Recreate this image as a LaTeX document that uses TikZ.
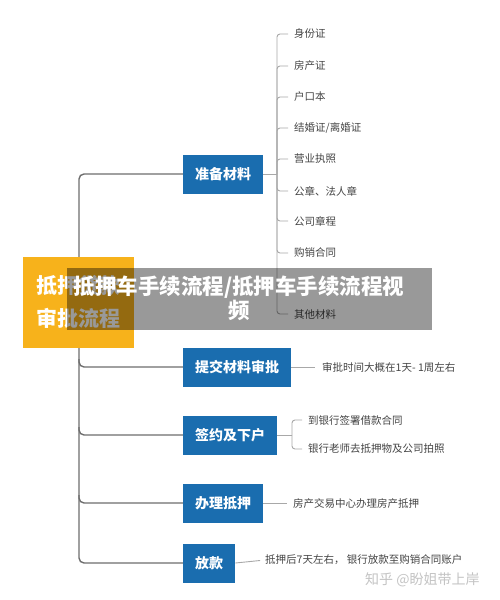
\documentclass[tikz,border=0pt]{standalone}
\usepackage{fontspec}
\setmainfont{Noto Sans CJK SC}
\usetikzlibrary{positioning,backgrounds,calc}
\definecolor{boxblue}{HTML}{1A6DAF}
\definecolor{rootgold}{HTML}{F7B21B}
\definecolor{trunkgray}{HTML}{6E6E6E}
\definecolor{twiggray}{HTML}{A8A8A8}
\definecolor{itemtext}{HTML}{444444}
\definecolor{markgray}{HTML}{C4C4C4}
\tikzset{
  stepbox/.style={anchor=west,fill=boxblue,text=white,font=\fontsize{14}{16}\selectfont\bfseries,inner xsep=12pt,minimum height=39pt},
  rootbox/.style={fill=rootgold,text=white,font=\fontsize{21}{33}\selectfont\bfseries,align=left,minimum width=111pt,minimum height=91pt,inner xsep=13pt},
  item/.style={anchor=west,text=itemtext,font=\fontsize{10.5}{12}\selectfont,inner sep=0pt},
  trunk/.style={draw=trunkgray,line width=1.4pt,rounded corners=5pt},
  twig/.style={draw=twiggray,line width=0.9pt,rounded corners=3pt},
}

\begin{document}
\begin{tikzpicture}[x=1pt,y=-1pt]
  \useasboundingbox (0,0) rectangle (500,600);
  \coordinate (tk) at (79,0);
  \node[rootbox] (root) at (78.5,302) {抵押贷款\\审批流程};
  \node[stepbox] (prep) at (183,174) {准备材料};
  \node[stepbox] (submit) at (183,367) {提交材料审批};
  \node[stepbox] (sign) at (183,435) {签约及下户};
  \node[stepbox] (mort) at (183,503) {办理抵押};
  \node[stepbox] (loan) at (183,563) {放款};
  \foreach \t/\y [count=\i] in {身份证/34,房产证/66,户口本/97,{结婚证/离婚证}/128,营业执照/159,公章、法人章/191,公司章程/221,购销合同/253,其他材料/314}
    \node[item] (p\i) at (294,\y) {\t};
  \node[item] (s1) at (322,367) {审批时间大概在1天- 1周左右};
  \node[item] (g1) at (308,420) {到银行签署借款合同};
  \node[item] (g2) at (308,449) {银行老师去抵押物及公司拍照};
  \node[item] (m1) at (293,503) {房产交易中心办理房产抵押};
  \node[item] (l1) at (265,560) {抵押后7天左右， 银行放款至购销合同账户};
  \coordinate (pk) at (277,174);
  \coordinate (gk) at (292,435);
  \begin{scope}[on background layer]
    \fill[white] (0,0) rectangle (500,600);
    \draw[trunk] (prep.west) -| (tk |- loan.west) -- (loan.west);
    \foreach \n in {submit,sign,mort}
      \draw[trunk] ($(tk |- \n.west)+(0,-8)$) |- (\n.west);
    \draw[twig] (prep.east) -- (pk);
    \foreach \i in {1,...,9}
      \draw[twig,shorten >=6pt] (pk) |- (p\i.west);
    \draw[twig,shorten >=7pt] (submit.east) -- (s1.west);
    \draw[twig] (sign.east) -- (gk);
    \draw[twig,shorten >=6pt] (gk) |- (g1.west);
    \draw[twig,shorten >=6pt] (gk) |- (g2.west);
    \draw[twig,shorten >=6pt] (mort.east) -- (m1.west);
    \draw[twig,shorten >=5pt] (loan.east) -- (l1.west);
  \end{scope}
  \node[fill=black,fill opacity=0.4,minimum width=365pt,minimum height=62pt,inner sep=0pt] (banner) at (249.5,299) {};
  \node[text=white,font=\fontsize{21.5}{24}\selectfont\bfseries,align=center] (title) at (239,298) {抵押车手续流程/抵押车手续流程视\\频};
  \node[anchor=west,text=markgray,font=\fontsize{14}{16}\selectfont,inner sep=0pt] (mark) at (365,580) {知乎 @盼姐带上岸};
\end{tikzpicture}
\end{document}
